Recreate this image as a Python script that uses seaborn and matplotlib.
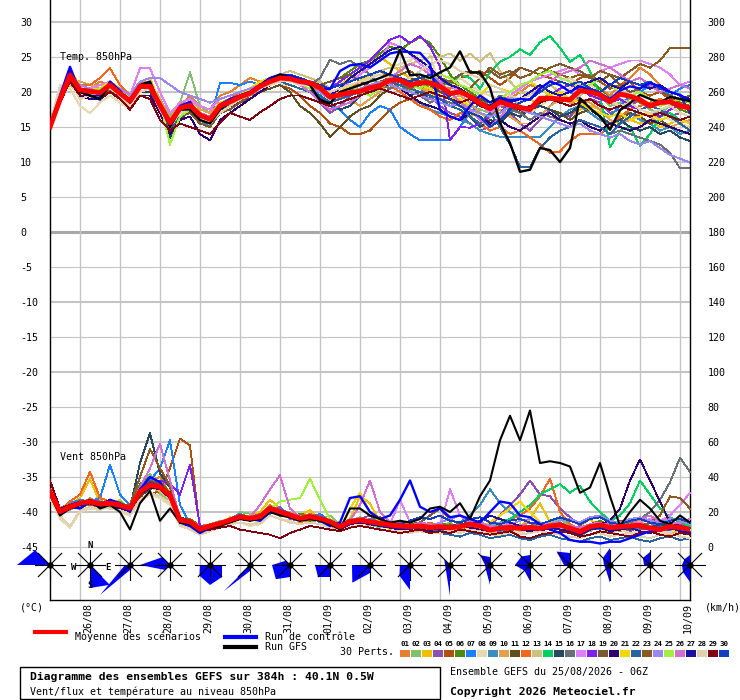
import numpy as np
import pandas as pd
import seaborn as sns
import matplotlib
matplotlib.use("Agg")
import matplotlib.pyplot as plt
import matplotlib.transforms as mtransforms
from matplotlib.lines import Line2D
from matplotlib.patches import Polygon, Rectangle

# ---------------- DATA ----------------
HOURS = list(range(0, 385, 6))          # echeances 6h, run du 25/08 06Z
DAY_HOURS = list(range(18, 384, 24))    # 00Z de chaque jour
DAY_LABELS = ["26/08", "27/08", "28/08", "29/08", "30/08", "31/08", "01/09", "02/09",
              "03/09", "04/09", "05/09", "06/09", "07/09", "08/09", "09/09", "10/09"]
ROSE_HOURS = list(range(0, 385, 24))

MEMBER_NAMES = ["%02d" % i for i in range(1, 31)]
MEMBER_COLORS = ["#e5802e", "#80c070", "#f0c000", "#8c50b0", "#b05010", "#508a10",
                 "#1a80ff", "#e8d8b0", "#3a8fc0", "#e0a050", "#604f20", "#f06820",
                 "#d0c080", "#00d060", "#284860", "#687078", "#e080f8", "#8020f0",
                 "#7a5a30", "#300070", "#f0d800", "#2a64a0", "#8a5a20", "#9a88f0",
                 "#a0f040", "#d070d0", "#2010a0", "#e0d0b0", "#800010", "#1040c0"]

# Temperature 850hPa (degC)
T_MEAN = [15.0, 18.9, 22.4, 20.3, 20.1, 19.9, 21.0, 19.8, 18.7, 20.8, 20.8, 18.1, 15.6,
          17.7, 18.1, 16.7, 16.1, 18.0, 18.6, 19.3, 19.8, 20.8, 21.5, 22.0, 21.9, 21.5,
          21.3, 20.6, 19.3, 19.6, 19.9, 20.1, 20.6, 20.9, 21.7, 21.7, 21.0, 21.3, 21.3,
          20.8, 19.8, 20.0, 19.4, 18.4, 17.6, 18.6, 18.1, 17.8, 17.5, 19.1, 19.1, 19.0,
          18.9, 20.2, 20.0, 19.6, 18.6, 19.7, 19.4, 18.9, 18.0, 18.5, 18.6, 18.0, 17.7]
T_CTRL = [15.2, 19.5, 23.6, 20.0, 19.5, 18.9, 21.5, 20.2, 18.5, 21.0, 21.2, 18.3, 15.5,
          18.0, 18.6, 16.5, 16.0, 18.2, 19.0, 19.5, 20.0, 21.0, 22.0, 22.5, 22.3, 21.8,
          21.2, 20.5, 20.4, 23.0, 23.8, 24.0, 23.5, 24.5, 25.5, 25.8, 25.7, 25.6, 24.0,
          17.4, 16.5, 16.0, 18.0, 19.5, 18.5, 19.2, 18.8, 19.0, 18.9, 20.5, 21.5, 21.0,
          20.0, 20.8, 20.3, 19.8, 19.0, 20.2, 20.8, 20.5, 21.3, 20.8, 20.0, 19.6, 18.7]
T_GFS = [15.2, 19.0, 22.0, 20.0, 19.5, 19.0, 21.0, 20.0, 18.5, 21.0, 21.5, 18.0, 15.0,
         17.5, 17.5, 16.0, 15.5, 17.5, 18.5, 19.5, 20.0, 21.0, 21.7, 22.5, 22.0, 21.5,
         21.0, 18.8, 18.4, 20.0, 20.5, 21.0, 21.5, 22.0, 22.6, 26.0, 22.4, 22.5, 22.0,
         22.8, 23.5, 25.8, 22.8, 22.8, 20.6, 15.6, 12.7, 8.6, 8.9, 12.0, 11.7, 10.0,
         12.0, 19.1, 17.7, 16.5, 14.6, 17.4, 18.4, 19.6, 19.0, 18.5, 19.3, 19.0, 18.7]

TEMP_MEMBERS = [
    [15.3, 19.5, 22, 21, 20.5, 21.5, 21, 20, 19, 21, 21.5, 18.5, 16,
     18, 19.5, 18, 17.5, 19.5, 20, 21, 22, 21.5, 22, 22.5, 21.5, 21,
     21.5, 21, 20, 19, 20.5, 21.5, 22, 23, 22, 21.5, 20, 19.5, 20.5,
     21, 20.5, 21, 20, 19, 18.5, 19.5, 19, 20, 21, 20.5, 19.5, 18.5,
     18, 19.5, 21, 20.5, 19.5, 21, 22, 23.5, 22.5, 21, 20, 19.5, 19],
    [15.8, 19, 22.5, 20, 20.5, 20.5, 21, 20.5, 18.5, 21, 21, 19, 16.5,
     18.5, 22.8, 18, 17, 18.5, 19, 19.5, 20.5, 21, 21.5, 22, 22, 21,
     20.5, 20, 18.5, 19, 20, 21, 22, 21, 20.5, 21, 20, 21.5, 22,
     20.5, 19, 18.5, 18, 17.5, 17, 18, 19.5, 18, 17, 18.5, 20, 19.5,
     20, 21, 20, 19.5, 18, 18.5, 19, 18.5, 17.5, 17, 18, 19, 18.5],
    [15, 19, 22, 20.5, 20, 19.5, 21.5, 20, 19, 21.5, 21, 17.5, 15,
     17.5, 17.5, 16, 15.5, 17.5, 18.5, 19.5, 20, 21, 22, 22.5, 22, 21.5,
     21, 21.5, 20.5, 21, 22, 23, 24.5, 25, 24, 23, 22, 21, 20,
     19, 18, 17.5, 16.5, 17, 16, 15.5, 17, 18.5, 19, 18, 17.5, 17,
     16.5, 17.5, 18, 17.5, 16.5, 17, 16, 15.5, 16, 15, 15.5, 16, 15.5],
    [14.8, 18.5, 22.5, 20.5, 19.5, 20, 20.5, 19.5, 18, 20.5, 20.5, 18, 15.5,
     17, 17.5, 16.5, 16, 17.5, 18, 19, 19.5, 20.5, 21.5, 22.5, 22, 21,
     20, 18.5, 17, 18, 19.5, 20.5, 19.5, 20.5, 21, 22, 21.5, 20.5, 19.5,
     18, 17, 16.5, 15.5, 14.5, 15, 16.5, 17, 15.5, 14.5, 16, 17.5, 17,
     16.5, 18, 19, 18.5, 17, 17.5, 18, 19, 18, 17.5, 16.5, 17, 16.5],
    [15, 18.5, 21.5, 20, 20, 19, 20.5, 19, 17.5, 20, 20, 17.5, 14.5,
     17, 17.5, 16.5, 16, 17.5, 18, 19, 19.5, 20, 20.5, 21, 20.5, 19.5,
     18, 17, 15.5, 15, 14, 14, 14.5, 16, 17.5, 18.5, 19, 19.5, 20,
     20.5, 21, 22, 22.5, 23, 22, 21, 22, 23.5, 23, 22.5, 22, 21.5,
     21, 22, 22.5, 21.5, 20.5, 21, 21.5, 20, 19.5, 20, 19, 18.5, 18],
    [15.5, 19, 22, 20.5, 20.5, 20, 21, 19.5, 18.5, 20.5, 21, 18, 15,
     17.5, 18, 16.5, 16, 18, 18.5, 19, 20, 21.5, 22, 22, 22.5, 22,
     21.5, 21, 21.5, 22, 23, 24, 24.5, 25.5, 26.5, 26, 27, 27.8, 27,
     25, 22.5, 21, 20, 19, 18, 19.5, 18.5, 17.5, 17, 18.5, 19, 18.5,
     19, 20.5, 21.5, 20.5, 19, 20, 19.5, 18.5, 18, 19, 18.5, 17.5, 17],
    [15.5, 19, 22.5, 19.5, 19, 19.5, 20.5, 19, 18, 20, 20.5, 17.5, 15.5,
     17.5, 18, 16.5, 16, 21.3, 21.3, 21, 21.5, 21, 21.5, 22, 21.5, 21,
     20.5, 19.5, 18, 17.5, 16, 15, 17, 18, 17.5, 15, 14, 13.1, 13.1,
     13.1, 13.1, 15, 17, 18.5, 17.5, 16, 17, 18, 17.5, 16.5, 18, 19.5,
     20, 19, 18.5, 17.5, 16.5, 18, 19.5, 20, 21, 20.5, 19.5, 20.5, 21],
    [15.5, 21, 20.5, 18, 17, 18.5, 19.5, 18.5, 17.5, 19.5, 20, 17, 14.5,
     16.5, 17, 15.5, 15, 17, 17.5, 18.5, 19, 20, 20.5, 21, 21, 20.5,
     20, 19.5, 19, 19.5, 20.5, 21, 22, 23, 23.5, 24, 24.5, 25.5, 25.5,
     20.5, 21, 22, 21, 20, 19.5, 19, 18, 17.5, 17, 18, 19, 19.5,
     20.5, 21.5, 21, 20, 19, 18, 17.5, 17, 16.5, 17, 16, 15.5, 15],
    [15, 19, 22.5, 20, 19.5, 20, 21, 20, 19, 21, 20.5, 18, 15,
     17, 17.5, 16, 15, 17, 18, 19, 19.5, 20, 21, 21.5, 21.5, 21,
     21, 20.5, 19.5, 20, 20.5, 19.5, 20, 20.5, 21, 20, 19, 18.5, 17.5,
     17, 16.5, 16, 15.5, 14.5, 14, 13.6, 13.6, 13.6, 13.6, 13.6, 15, 16.5,
     17.5, 18, 17, 16, 15.5, 16.5, 17, 16, 15.5, 14.5, 15, 14, 14.5],
    [15.3, 19.5, 22, 21.5, 21, 20.5, 21.5, 20.5, 19.5, 21.5, 21.5, 19, 16,
     18.5, 19, 17.5, 17, 18.5, 19, 19.5, 20, 21, 21.5, 21.5, 21, 20.5,
     20, 19, 18, 18.5, 19, 18, 19, 20, 21.5, 22, 21, 20.5, 20,
     19.5, 19, 19.5, 18.5, 17, 16.5, 17.5, 16.5, 15.5, 15.5, 16.5, 18, 19,
     18.5, 19, 18.5, 17.5, 16, 15.5, 16, 17, 16.5, 15.5, 15, 15.5, 16],
    [15, 18.5, 22, 20, 19.5, 19.5, 20.5, 19, 18, 20, 20, 17, 14.5,
     16.5, 17, 15.5, 15, 17, 17.5, 18.5, 19, 20, 20.5, 21, 20, 18,
     17, 15.5, 13.6, 15, 16.5, 17.5, 18, 19.5, 20.5, 21.5, 22, 21.5, 21,
     20, 19.5, 20.5, 19.5, 19, 18.5, 19, 18, 17, 17.5, 18, 17.5, 17,
     16, 17, 17.5, 16.5, 15.5, 16, 17, 16.5, 15.5, 16, 15, 14.5, 14],
    [15.5, 19.5, 22.5, 21, 21, 22, 23.4, 21, 19.5, 21.5, 21, 18.5, 16,
     18, 18.5, 17, 16.5, 18.5, 19, 20, 20.5, 21.5, 22, 22.5, 22, 21.5,
     21, 20, 19, 19.5, 19.5, 20.5, 21, 20.5, 21, 20, 19, 18, 17.5,
     16.5, 16, 17, 16.5, 15.5, 14.5, 15, 14, 14.5, 13.5, 12.5, 11.3, 11.5,
     13, 14, 14, 14, 15, 16.5, 17.5, 18, 18.5, 19, 18.5, 18, 19],
    [15.8, 20, 21, 19.5, 19, 20, 20.5, 19.5, 18.5, 20.5, 20.5, 18, 15.5,
     17.5, 18, 16.5, 16, 18, 18.5, 19, 20, 21, 21.5, 22.5, 23, 22.5,
     22, 21.5, 20.5, 21, 21.5, 22, 22.5, 23, 23.5, 23.5, 24, 24.5, 25,
     25, 25.5, 24.5, 25.5, 24.3, 25.6, 23, 21.5, 20, 19.5, 20.5, 21, 20,
     19, 19.5, 20.5, 20, 18.5, 19, 18.5, 17.5, 17, 16.5, 17, 16, 15.5],
    [16, 19.5, 22.5, 20.5, 20, 20, 21, 20, 18.5, 20.5, 20.5, 18.5, 15.5,
     18, 18.5, 17, 16.5, 18, 18.5, 19, 19.5, 20.5, 21, 21.5, 21, 20.5,
     20.5, 20, 19, 19.5, 20, 20.5, 20.5, 21, 22, 21.5, 21, 20.5, 21,
     21.5, 21, 22.5, 22, 20.5, 22.8, 24.3, 25, 26.1, 25.3, 27.1, 28, 26.3,
     24.3, 25.3, 23, 19.5, 12.1, 14.5, 15, 12.3, 14, 16.5, 17, 16, 16.5],
    [15, 18.5, 22, 20, 19.5, 19.5, 20.5, 19.5, 18, 20, 20, 17.5, 13.5,
     16, 17.5, 15.5, 15, 17, 18, 18.5, 19.5, 20.5, 21.5, 22, 21.5, 21,
     20.5, 19, 18.5, 17.5, 18, 19.5, 20.5, 21.5, 21, 20.5, 19.5, 20, 19,
     18.5, 18, 17.5, 16.5, 15, 16, 15.5, 17, 16.5, 17.5, 18, 17.5, 16.5,
     17, 18, 17.5, 16.5, 15.5, 16, 15, 14.5, 15, 14, 14.5, 13.5, 13],
    [15.2, 19, 22, 20, 20, 19.5, 21, 19.5, 18.5, 20.5, 21, 18, 15,
     17, 18, 16.5, 16, 18, 18.5, 19.5, 20, 21, 21.5, 22, 22, 21.5,
     21, 22, 24.6, 24, 24.5, 23.5, 22.5, 21, 20.5, 21, 20, 19.5, 18.5,
     19, 18.5, 18, 17.5, 17, 16.5, 18, 17.5, 17, 16, 17, 16.5, 16,
     15.5, 16, 15.5, 15, 14, 14.5, 14, 13.5, 13, 12.5, 11.3, 9.1, 9.1],
    [15.5, 20, 22, 21, 20.5, 21, 21.5, 20.5, 19.5, 23.4, 23.4, 20, 17,
     18.5, 19, 18, 17.5, 19, 19.5, 20, 20.5, 21.5, 22, 22.5, 22, 21.5,
     21, 20.5, 20, 20.5, 21.5, 22.5, 23.5, 24.5, 27, 26.5, 25.5, 24, 23,
     22, 21, 20, 19, 18.5, 17, 18, 19.5, 20.5, 21.5, 22, 22.5, 23,
     23.5, 22.5, 22, 23, 23.5, 24, 24.5, 24.5, 24, 23.5, 22.5, 21, 21.5],
    [15, 19, 22.5, 20.5, 20, 20, 21, 20, 19, 21, 21, 18, 15.5,
     18, 18.5, 17, 16.5, 18.5, 19, 19.5, 20, 21, 21.5, 22, 22.5, 22,
     21.5, 21, 20.5, 21.5, 22.5, 23.5, 24.5, 26, 27.5, 28, 27, 28, 26.5,
     23.6, 13.1, 15, 14.9, 15.5, 16.5, 17, 18.5, 18, 17.5, 18.5, 19.5, 20.5,
     21, 20.5, 19.5, 19, 18.5, 19, 18, 17.5, 17, 16.5, 17.5, 18, 17.5],
    [15.2, 18.5, 21.5, 20, 20, 19.5, 20.5, 19.5, 18, 20, 20.5, 17.5, 14,
     16.5, 17, 15.5, 15, 17, 17.5, 18.5, 19.5, 20.5, 21, 21.5, 21, 20.5,
     20.5, 21, 21.5, 22, 22.5, 21.5, 20.5, 21, 22, 22.5, 23, 22, 21.5,
     21, 21.5, 22.5, 23, 22.5, 23, 22, 22.5, 23.5, 23, 22.5, 23.5, 24,
     23.5, 23, 22, 21.5, 22.5, 21, 20, 20.5, 21.5, 20, 19.5, 19, 19.5],
    [15, 18.5, 22, 19.5, 19, 19, 20, 19, 17.5, 19.5, 19.5, 17, 14,
     16, 16.5, 14, 13.1, 16, 17, 18, 19, 20, 21, 21.5, 21, 20.5,
     20, 19, 18, 18.5, 19, 19.5, 20, 21, 21, 20.5, 19.5, 18.5, 18,
     17.5, 16.5, 16, 17, 16.5, 15.5, 16, 15, 14.5, 15.5, 16.5, 17, 16,
     15.5, 16, 15, 14.5, 15.5, 15, 14.5, 15, 16, 15.5, 15, 14.5, 14],
    [15.5, 19.5, 23, 21, 20.5, 20.5, 21.5, 20.5, 19, 21.5, 22, 18.5, 16,
     18, 18.5, 17, 16.5, 18.5, 19, 19.5, 20.5, 21.5, 22, 22, 21.5, 21,
     20.5, 20, 19.5, 20, 21, 21.5, 22.5, 23, 22.5, 22, 21.5, 21, 20.5,
     19.5, 19, 19, 18, 19.5, 21, 20.5, 20, 21, 21.5, 20.5, 19.5, 20,
     19, 18.5, 17.5, 17, 16.5, 17, 16, 16.5, 17, 16, 16.5, 16, 15.5],
    [15, 19, 22, 20, 19.5, 19.5, 21, 19.5, 18.5, 20.5, 20.5, 17.5, 14.5,
     17, 17.5, 16, 15.5, 17.5, 18, 19, 19.5, 20.5, 21, 21.5, 21, 20.5,
     20, 19.5, 18.5, 19, 19.5, 20, 20.5, 21, 21.5, 21, 20.5, 20, 19.5,
     19, 18, 17.5, 16.5, 15.5, 17, 15, 12.5, 9.3, 9.3, 12, 13.5, 14.5,
     15, 16, 15.5, 15, 14, 15.5, 16.5, 17.5, 18, 17.5, 16.5, 15.5, 14.5],
    [15.3, 19, 22, 20.5, 20, 20, 21, 19.5, 18.5, 20.5, 20.5, 18, 15,
     17.5, 18, 16.5, 16, 17.5, 18.5, 19.5, 20, 21, 21.5, 22, 22, 21.5,
     21, 20.5, 20, 20.5, 21, 21.5, 21, 21.5, 22, 21.5, 20.5, 21, 21.5,
     22, 21.5, 21, 20.5, 22, 23.5, 22.5, 23, 22, 22.5, 23.5, 23, 22.5,
     22, 22.5, 22, 23, 22.5, 22, 23, 24, 23.5, 24.5, 26.3, 26.3, 26.3],
    [15.5, 19.5, 22.5, 21, 20.5, 20, 21, 20.5, 19.5, 21.5, 22, 22, 21,
     20, 19.5, 19, 18.5, 19, 19.5, 20, 20.5, 21, 21.5, 22, 21.5, 21,
     20.5, 20, 19, 19.5, 20, 20.5, 21, 21.5, 21, 20.5, 20, 19.5, 19,
     18.5, 18, 18.5, 17.5, 17, 16.5, 17, 18, 17.5, 17, 16.5, 16, 15.5,
     15, 15.5, 14.5, 14, 13.5, 14, 13, 12.5, 13, 12, 11, 10.5, 9.9],
    [16, 19.5, 22, 20, 20, 20.5, 21, 20, 19, 21, 21, 18.5, 12.5,
     16.5, 17.5, 16, 15.5, 17.5, 18.5, 19.5, 20, 21, 21.5, 22, 21.5, 21,
     20.5, 21, 20, 20.5, 21, 20, 19.5, 20.5, 21.5, 22, 21, 20.5, 21.5,
     22.5, 22, 21, 20.5, 19.5, 18.5, 19, 20, 21, 21.5, 22.5, 23, 22,
     21.5, 20.5, 21, 22, 21, 20, 19.5, 20, 19, 18, 18.5, 19, 18.5],
    [15.3, 19, 22, 20.5, 20, 19.5, 21, 20, 18.5, 20.5, 21, 18.5, 15.5,
     17.5, 18, 17, 16.5, 18, 18.5, 19, 20, 20.5, 21, 21.5, 21.5, 21,
     20, 18.5, 17.5, 18, 18.5, 19.5, 20, 21, 22, 23, 24, 23.5, 22.5,
     21.5, 20, 18.5, 17.5, 16, 15, 16.5, 17.5, 18.5, 19, 20.5, 21.5, 22.5,
     23, 23.5, 24.5, 24, 23.5, 22.5, 21.5, 22, 21, 20, 20.5, 21, 20.5],
    [15, 19, 23, 20, 19.5, 19.5, 21, 20, 18.5, 21, 21, 18, 15,
     17.5, 18, 16.5, 16, 18, 18.5, 19.5, 20, 21, 21.5, 22.5, 22, 21.5,
     21, 20.5, 19.5, 20.5, 22, 23, 24, 25, 26, 26.5, 25.5, 24.5, 23.5,
     22, 21, 20.5, 19.5, 18.5, 18, 19, 18.5, 19, 20, 21, 20, 19.5,
     20, 21, 21.5, 22, 21, 20.5, 21.5, 21, 20.5, 21, 20, 19.5, 19],
    [15.5, 20.5, 21.5, 19, 19.5, 20, 20.5, 19.5, 18, 20, 20.5, 17.5, 15,
     17, 17.5, 16, 15.5, 17, 18, 19, 19.5, 20.5, 21, 21.5, 21.5, 21,
     21, 20.5, 20, 20.5, 21, 21.5, 22, 22.5, 22, 21.5, 22, 23, 24,
     24.5, 24, 23, 22.5, 22, 21, 20.5, 19.5, 19, 19.5, 20, 21, 21.5,
     22, 21, 20, 19.5, 18.5, 18, 18.5, 17.5, 17, 17.5, 18, 17, 16.5],
    [15, 18.5, 21.5, 19.5, 19.5, 19, 20, 19, 17.5, 19.5, 19, 16, 14.5,
     15.5, 15, 14.5, 14, 15.6, 17, 16.5, 16, 17.1, 18, 19, 19.5, 19.5,
     19, 18.5, 18, 18.5, 19, 19.5, 20, 20.5, 20, 19.5, 19, 19.5, 20,
     19.5, 19, 18.5, 19, 18, 17.5, 18.5, 18, 17.5, 18, 18.5, 19, 18.5,
     18, 18.5, 19, 18, 17.5, 18, 17.5, 17, 16.5, 17, 16.5, 16, 16.5],
    [15.2, 19, 22.5, 20.5, 20, 20, 21, 20, 19, 21, 21, 18, 15.5,
     17.5, 18, 16.5, 16, 18, 18.5, 19.5, 20, 21, 22, 22.5, 22.5, 22,
     21.5, 21, 20.5, 21, 21.5, 22, 22.5, 23, 22.5, 22, 21.5, 22, 22.5,
     21, 19, 18, 17, 16.5, 15, 16, 17.5, 18.5, 19, 20, 21, 21.5,
     21, 21.5, 20.5, 20, 21, 22, 21.5, 21, 21.5, 20.5, 20, 19.5, 17],
]

# Vent 850hPa (km/h)
W_MEAN = [31.6, 20.2, 22.9, 25.1, 25.9, 24.6, 25.0, 24.0, 22.1, 31.6, 35.4, 34.5, 29.7,
          15.4, 14.5, 10.1, 12.0, 13.5, 15.4, 17.3, 16.4, 17.3, 22.1, 20.2, 18.3, 16.4,
          17.3, 16.4, 14.5, 11.6, 14.5, 15.4, 14.5, 13.5, 12.6, 12.0, 11.6, 12.0, 11.2,
          11.6, 11.0, 11.6, 13.1, 12.0, 9.7, 10.7, 11.2, 10.7, 11.2, 10.7, 12.0, 12.6,
          10.7, 8.8, 11.6, 12.6, 11.2, 11.6, 12.0, 12.4, 10.7, 10.1, 11.6, 11.2, 10.1]
W_CTRL = [30, 19, 23, 22, 26, 23, 27, 25, 20, 33, 40, 37, 28,
          14, 12, 8, 11, 13, 15, 18, 16, 15, 20, 19, 17, 16,
          18, 15, 12, 14, 28, 29, 20, 16, 18, 27, 38, 23, 20,
          22, 17, 18, 16, 14, 20, 26, 25, 18, 17, 13, 10, 8,
          4, 3, 3, 2, 3, 3, 5, 7, 9, 11, 10, 12, 9]
W_GFS = [30, 18, 22, 24, 27, 22, 24, 20, 10, 25, 32, 15, 22,
         14, 13, 9, 11, 12, 14, 16, 15, 16, 20, 18, 17, 15,
         16, 15, 13, 10, 22, 22, 18, 16, 14, 15, 14, 16, 22,
         23, 20, 25, 16, 29, 38, 61, 75, 61, 78, 48, 49, 48,
         46, 31, 34, 48, 29, 12, 20, 27, 22, 15, 13, 18, 14]

WIND_MEMBERS = [
    [31, 18, 25, 23, 28, 24, 27, 22, 19, 30, 38, 40, 30,
     14, 12, 9, 11, 14, 16, 18, 15, 17, 24, 21, 18, 14,
     16, 18, 12, 10, 13, 15, 12, 16, 12, 10, 8, 11, 14,
     10, 9, 13, 12, 10, 8, 12, 14, 10, 9, 13, 15, 11,
     8, 6, 10, 14, 13, 9, 11, 13, 12, 8, 10, 12, 9],
    [32, 22, 21, 26, 24, 27, 23, 25, 20, 35, 42, 30, 27,
     16, 13, 11, 13, 15, 14, 20, 19, 16, 21, 18, 20, 17,
     14, 16, 18, 13, 15, 17, 13, 11, 14, 12, 10, 13, 9,
     12, 14, 10, 12, 15, 11, 8, 10, 13, 12, 9, 14, 16,
     12, 10, 9, 13, 11, 14, 12, 10, 9, 12, 14, 11, 8],
    [30, 21, 24, 28, 39, 25, 24, 27, 21, 34, 38, 36, 32,
     17, 15, 8, 10, 12, 17, 16, 18, 20, 27, 22, 19, 18,
     21, 15, 13, 9, 16, 29, 25, 14, 10, 13, 11, 9, 12,
     13, 10, 12, 15, 11, 7, 9, 13, 12, 16, 25, 14, 10,
     9, 12, 16, 11, 8, 10, 13, 15, 11, 9, 7, 10, 12],
    [33, 19, 22, 24, 27, 26, 25, 21, 24, 30, 33, 38, 28,
     13, 15, 11, 12, 11, 14, 16, 17, 19, 20, 23, 16, 15,
     18, 14, 15, 12, 13, 16, 18, 13, 11, 14, 13, 10, 9,
     12, 13, 11, 16, 14, 12, 18, 24, 30, 38, 30, 29, 22,
     17, 12, 10, 13, 15, 11, 9, 12, 14, 10, 12, 13, 11],
    [29, 20, 23, 25, 24, 22, 26, 23, 21, 28, 30, 32, 45,
     62, 58, 10, 13, 12, 15, 18, 16, 15, 20, 19, 17, 16,
     15, 17, 14, 12, 16, 14, 15, 17, 13, 11, 12, 14, 10,
     11, 13, 12, 10, 14, 11, 10, 9, 12, 14, 11, 10, 13,
     12, 9, 11, 10, 12, 15, 14, 10, 11, 13, 12, 9, 10],
    [31, 19, 23, 22, 25, 26, 24, 25, 23, 36, 40, 37, 31,
     15, 16, 12, 10, 14, 16, 17, 15, 18, 23, 20, 17, 19,
     18, 15, 13, 12, 14, 12, 16, 15, 14, 13, 10, 12, 11,
     14, 12, 10, 13, 11, 13, 14, 12, 9, 10, 12, 11, 14,
     10, 8, 13, 15, 12, 11, 14, 13, 10, 11, 9, 12, 10],
    [30, 22, 25, 27, 26, 28, 47, 30, 24, 33, 38, 45, 61,
     24, 13, 9, 11, 12, 14, 17, 16, 15, 19, 22, 19, 16,
     17, 19, 14, 10, 12, 15, 13, 14, 11, 12, 14, 10, 12,
     9, 12, 13, 11, 14, 10, 9, 12, 11, 10, 13, 12, 10,
     11, 9, 12, 10, 13, 12, 10, 11, 14, 12, 9, 11, 12],
    [28, 16, 11, 20, 22, 21, 23, 20, 18, 26, 30, 28, 24,
     12, 10, 7, 9, 11, 13, 14, 12, 13, 18, 16, 15, 13,
     14, 13, 11, 9, 12, 13, 11, 10, 9, 10, 8, 10, 9,
     8, 10, 9, 11, 10, 8, 7, 9, 8, 10, 9, 11, 10,
     9, 7, 10, 11, 9, 10, 8, 9, 10, 8, 9, 10, 8],
    [32, 20, 22, 25, 27, 23, 26, 24, 22, 31, 36, 34, 30,
     16, 14, 11, 12, 14, 16, 19, 17, 18, 22, 21, 18, 16,
     16, 15, 13, 11, 13, 14, 16, 15, 13, 12, 14, 12, 10,
     12, 11, 14, 18, 24, 33, 25, 20, 16, 14, 12, 10, 13,
     11, 9, 12, 14, 12, 10, 13, 12, 11, 10, 12, 11, 9],
    [30, 21, 24, 26, 25, 24, 23, 26, 22, 30, 34, 33, 28,
     15, 13, 10, 12, 14, 15, 16, 18, 17, 21, 20, 19, 17,
     18, 17, 15, 12, 14, 16, 15, 13, 12, 11, 13, 12, 11,
     13, 10, 12, 14, 11, 10, 12, 11, 13, 12, 10, 14, 13,
     12, 10, 13, 12, 11, 13, 12, 14, 11, 10, 12, 11, 10],
    [31, 20, 23, 24, 26, 25, 24, 23, 20, 29, 33, 35, 31,
     14, 15, 12, 11, 13, 15, 17, 16, 18, 23, 19, 17, 15,
     17, 16, 15, 11, 15, 14, 13, 12, 13, 12, 11, 13, 12,
     11, 12, 10, 13, 12, 9, 11, 12, 10, 12, 11, 13, 12,
     10, 9, 11, 13, 12, 11, 13, 12, 10, 11, 12, 10, 11],
    [32, 21, 26, 30, 43, 28, 26, 25, 23, 30, 35, 33, 29,
     16, 15, 12, 13, 14, 16, 18, 17, 18, 24, 21, 19, 17,
     19, 17, 15, 13, 14, 16, 15, 14, 13, 15, 13, 12, 14,
     12, 11, 13, 12, 10, 11, 14, 16, 18, 22, 29, 39, 20,
     13, 10, 12, 14, 11, 12, 13, 11, 12, 10, 13, 12, 11],
    [29, 19, 22, 24, 25, 23, 24, 22, 21, 30, 34, 32, 27,
     15, 13, 10, 11, 13, 14, 16, 15, 16, 21, 19, 17, 15,
     16, 15, 13, 11, 13, 14, 13, 12, 11, 12, 10, 11, 12,
     10, 11, 12, 14, 11, 8, 10, 11, 9, 11, 10, 12, 11,
     10, 8, 11, 12, 10, 11, 12, 13, 10, 9, 11, 10, 9],
    [31, 22, 24, 26, 27, 25, 24, 26, 22, 32, 36, 35, 29,
     15, 14, 11, 12, 13, 15, 17, 16, 18, 22, 20, 18, 16,
     16, 15, 14, 12, 15, 16, 14, 13, 12, 11, 13, 12, 11,
     12, 10, 13, 12, 11, 10, 14, 16, 20, 24, 30, 33, 36,
     31, 35, 26, 20, 15, 18, 25, 38, 30, 22, 17, 14, 12],
    [33, 20, 23, 25, 26, 24, 27, 25, 22, 48, 65, 42, 34,
     17, 15, 11, 12, 14, 16, 17, 16, 18, 22, 20, 18, 16,
     17, 16, 14, 12, 14, 15, 14, 13, 12, 13, 11, 12, 10,
     11, 12, 13, 14, 12, 10, 11, 10, 12, 11, 13, 12, 11,
     12, 10, 11, 13, 12, 11, 10, 12, 11, 13, 12, 10, 11],
    [30, 20, 22, 25, 26, 24, 25, 23, 22, 31, 37, 34, 29,
     15, 14, 10, 12, 13, 15, 17, 16, 17, 22, 20, 18, 16,
     17, 16, 14, 11, 14, 15, 14, 13, 12, 12, 11, 12, 11,
     11, 12, 11, 13, 12, 10, 11, 12, 11, 10, 12, 13, 14,
     11, 10, 12, 13, 12, 11, 14, 16, 20, 27, 37, 51, 43],
    [31, 21, 24, 25, 27, 25, 26, 24, 23, 32, 36, 35, 30,
     16, 15, 11, 12, 14, 16, 18, 17, 18, 23, 21, 19, 17,
     18, 17, 15, 12, 15, 16, 15, 14, 13, 27, 14, 12, 13,
     12, 33, 18, 14, 13, 11, 12, 14, 12, 11, 13, 12, 11,
     12, 10, 13, 14, 12, 13, 12, 14, 16, 15, 18, 24, 31],
    [30, 20, 23, 24, 25, 24, 25, 23, 21, 30, 36, 38, 36,
     30, 47, 12, 11, 13, 15, 16, 15, 17, 21, 19, 17, 15,
     16, 15, 13, 11, 13, 14, 13, 12, 11, 12, 11, 10, 12,
     11, 10, 12, 13, 12, 9, 10, 11, 10, 12, 11, 10, 12,
     10, 8, 11, 12, 10, 11, 12, 11, 10, 9, 11, 10, 9],
    [31, 20, 23, 26, 26, 25, 25, 24, 22, 33, 38, 36, 30,
     15, 14, 10, 12, 14, 16, 18, 17, 18, 22, 20, 18, 16,
     17, 16, 14, 12, 15, 16, 15, 14, 13, 12, 13, 14, 18,
     22, 16, 13, 12, 11, 10, 12, 11, 10, 11, 12, 11, 12,
     11, 10, 12, 13, 11, 12, 13, 12, 11, 10, 11, 12, 10],
    [30, 19, 22, 24, 25, 23, 24, 22, 20, 30, 34, 33, 28,
     14, 13, 9, 11, 12, 14, 16, 15, 16, 21, 19, 17, 15,
     16, 15, 13, 10, 13, 14, 13, 12, 11, 10, 11, 10, 9,
     10, 11, 12, 11, 10, 9, 10, 11, 10, 9, 10, 11, 12,
     11, 10, 12, 13, 15, 22, 38, 50, 38, 26, 14, 12, 10],
    [31, 21, 24, 26, 26, 25, 25, 24, 22, 31, 36, 35, 30,
     15, 14, 10, 12, 14, 15, 17, 16, 17, 22, 20, 18, 16,
     17, 16, 14, 11, 22, 31, 20, 14, 13, 12, 11, 13, 12,
     11, 12, 10, 13, 12, 14, 18, 22, 26, 20, 14, 12, 11,
     12, 10, 11, 13, 12, 11, 12, 13, 11, 10, 12, 11, 10],
    [31, 20, 23, 25, 26, 24, 26, 24, 22, 32, 36, 34, 30,
     15, 14, 11, 12, 13, 15, 17, 16, 18, 22, 20, 18, 16,
     17, 16, 14, 12, 14, 15, 14, 13, 12, 12, 11, 12, 11,
     8, 7, 6, 8, 7, 5, 6, 7, 5, 4, 6, 7, 5,
     4, 3, 5, 6, 4, 5, 6, 4, 3, 5, 6, 4, 5],
    [30, 20, 23, 25, 26, 24, 25, 23, 24, 40, 56, 45, 35,
     16, 14, 10, 12, 13, 15, 17, 16, 17, 22, 20, 18, 16,
     17, 16, 14, 12, 14, 15, 14, 13, 12, 12, 11, 12, 11,
     11, 12, 11, 13, 12, 10, 11, 12, 11, 10, 12, 13, 12,
     11, 10, 12, 13, 12, 11, 13, 12, 14, 18, 29, 28, 22],
    [30, 21, 23, 25, 27, 25, 25, 24, 22, 32, 37, 35, 30,
     16, 14, 11, 12, 14, 16, 17, 16, 18, 22, 20, 18, 16,
     17, 16, 14, 12, 15, 16, 15, 14, 13, 12, 11, 13, 12,
     14, 16, 18, 15, 13, 12, 14, 13, 15, 16, 14, 13, 15,
     16, 14, 17, 18, 15, 14, 16, 17, 15, 14, 16, 15, 13],
    [30, 20, 24, 25, 26, 24, 25, 24, 22, 31, 35, 34, 29,
     15, 14, 10, 12, 14, 15, 17, 16, 17, 22, 26, 27, 28,
     39, 27, 16, 12, 14, 15, 14, 13, 12, 11, 12, 13, 11,
     12, 11, 12, 13, 11, 10, 11, 12, 10, 11, 12, 11, 12,
     10, 9, 11, 12, 11, 12, 13, 12, 10, 11, 12, 11, 10],
    [31, 21, 23, 25, 26, 25, 26, 24, 23, 34, 45, 59, 38,
     16, 14, 11, 12, 14, 16, 18, 17, 24, 33, 41, 22, 17,
     18, 16, 14, 12, 15, 24, 38, 20, 14, 13, 12, 14, 13,
     12, 11, 13, 12, 14, 12, 11, 13, 12, 14, 13, 12, 11,
     12, 11, 13, 12, 14, 13, 12, 16, 18, 15, 13, 14, 16],
    [30, 20, 22, 24, 26, 24, 25, 23, 21, 31, 35, 33, 29,
     15, 13, 10, 11, 13, 15, 16, 15, 17, 21, 19, 17, 15,
     16, 15, 13, 11, 13, 14, 13, 12, 11, 11, 10, 12, 11,
     10, 11, 12, 13, 15, 18, 16, 14, 12, 10, 9, 11, 10,
     9, 7, 10, 11, 9, 10, 11, 9, 8, 10, 11, 9, 8],
    [29, 18, 12, 21, 23, 22, 22, 21, 19, 27, 31, 29, 25,
     13, 11, 7, 9, 11, 13, 14, 13, 14, 18, 16, 14, 13,
     14, 13, 11, 9, 11, 12, 11, 10, 9, 9, 8, 9, 8,
     8, 9, 8, 10, 9, 7, 7, 8, 7, 8, 9, 8, 7,
     6, 5, 7, 8, 6, 7, 8, 6, 5, 7, 8, 6, 5],
    [38, 22, 24, 26, 25, 24, 27, 25, 21, 30, 35, 33, 28,
     14, 12, 9, 10, 11, 12, 10, 9, 8, 7, 5, 8, 10,
     12, 11, 10, 9, 11, 12, 11, 10, 9, 8, 9, 10, 8,
     9, 8, 10, 9, 8, 7, 8, 9, 6, 5, 7, 8, 9,
     8, 6, 7, 9, 8, 7, 6, 8, 9, 7, 6, 8, 7],
    [31, 20, 23, 25, 27, 25, 26, 25, 22, 33, 37, 35, 30,
     16, 14, 11, 12, 14, 16, 18, 17, 18, 23, 21, 19, 17,
     18, 17, 15, 13, 15, 16, 15, 14, 14, 13, 15, 17, 16,
     18, 15, 14, 16, 17, 14, 13, 15, 16, 14, 13, 15, 17,
     15, 13, 16, 17, 14, 13, 15, 16, 14, 13, 15, 16, 14],
]

# roses des vents : longueur par secteur N, NE, E, SE, S, SW, W, NW
ROSE_FREQ = [
    [0, 0, 0, 0, 0, 0, 33, 21],
    [0, 0, 0, 28, 23, 0, 0, 0],
    [0, 0, 0, 0, 5, 42, 5, 0],
    [0, 0, 0, 0, 0, 7, 30, 11],
    [0, 0, 12, 17, 20, 15, 10, 0],
    [0, 0, 4, 0, 6, 37, 0, 0],
    [0, 0, 0, 0, 12, 20, 18, 6],
    [0, 0, 5, 0, 12, 17, 15, 0],
    [0, 0, 0, 0, 8, 25, 18, 0],
    [5, 0, 0, 0, 25, 15, 10, 0],
    [0, 0, 0, 0, 31, 6, 5, 8],
    [8, 0, 0, 0, 20, 6, 5, 14],
    [10, 0, 0, 0, 16, 8, 15, 12],
    [12, 0, 0, 0, 12, 0, 6, 19],
    [17, 0, 0, 0, 18, 6, 6, 10],
    [13, 0, 0, 0, 27, 0, 6, 10],
    [10, 0, 6, 0, 17, 10, 8, 8],
]
# ---------------------------------------

for serie in TEMP_MEMBERS + WIND_MEMBERS + [T_MEAN, T_CTRL, T_GFS, W_MEAN, W_CTRL, W_GFS]:
    assert len(serie) == len(HOURS), len(serie)

W, H = 740, 700
plt.rcParams["font.family"] = ["DejaVu Sans Mono"]
plt.rcParams["font.size"] = 7.2
plt.rcParams["axes.unicode_minus"] = False


def fx(x):
    return x / W


def fy(y):
    return 1 - y / H


fig = plt.figure(figsize=(W / 100, H / 100), dpi=100)
fig.patch.set_facecolor("white")
ax = fig.add_axes([fx(50), fy(600), 640 / W, 600 / H])
ax2 = ax.twinx()

palette = dict(zip(MEMBER_NAMES, MEMBER_COLORS))
n = len(HOURS)
df_t = pd.DataFrame({"hour": HOURS * 30,
                     "temp": [v for s in TEMP_MEMBERS for v in s],
                     "member": np.repeat(MEMBER_NAMES, n)})
df_w = pd.DataFrame({"hour": HOURS * 30,
                     "wind": [v for s in WIND_MEMBERS for v in s],
                     "member": np.repeat(MEMBER_NAMES, n)})

member_style = dict(estimator=None, legend=False, linewidth=0.6, marker="s",
                    markersize=2.0, markeredgewidth=0, antialiased=False, zorder=2)

# temperature
sns.lineplot(data=df_t, x="hour", y="temp", hue="member", palette=palette,
             ax=ax, **member_style)
sns.lineplot(x=HOURS, y=T_CTRL, color="#0000ff", linewidth=1.7, ax=ax, zorder=3)
sns.lineplot(x=HOURS, y=T_GFS, color="black", linewidth=1.7, ax=ax, zorder=4)
sns.lineplot(x=HOURS, y=T_MEAN, color="#ff0000", linewidth=3.6, ax=ax, zorder=5)

# vent
sns.lineplot(data=df_w, x="hour", y="wind", hue="member", palette=palette,
             ax=ax2, **member_style)
sns.lineplot(x=HOURS, y=W_CTRL, color="#0000ff", linewidth=1.7, ax=ax2, zorder=3)
sns.lineplot(x=HOURS, y=W_GFS, color="black", linewidth=1.5, ax=ax2, zorder=4)
sns.lineplot(x=HOURS, y=W_MEAN, color="#ff0000", linewidth=3.6, ax=ax2, zorder=5)

ylo, yhi = 30 - 578 / 7, 30 + 22 / 7
ax.set_xlim(0, 384)
ax.set_ylim(ylo, yhi)
ax2.set_xlim(0, 384)
ax2.set_ylim(4 * (ylo + 45), 4 * (yhi + 45))
for a in (ax, ax2):
    a.set_xlabel("")
    a.set_ylabel("")

# grille
for v in range(-45, 31, 5):
    if v == 0:
        ax.axhline(v, color="#a8a8a8", lw=2.2, zorder=0.5)
    elif v % 10 == 0:
        ax.axhline(v, color="#c4c4c4", lw=1.5, zorder=0.5)
    else:
        ax.axhline(v, color="#c4c4c4", lw=0.8, zorder=0.5)
for h in DAY_HOURS:
    ax.axvline(h, color="#c4c4c4", lw=1.0, zorder=0.5)

# axes / graduations
ax.set_yticks(range(-45, 31, 5))
ax.tick_params(axis="y", length=0, pad=21.6)
for lab in ax.get_yticklabels():
    lab.set_horizontalalignment("left")
ax2.set_yticks(range(0, 301, 20))
ax2.tick_params(axis="y", length=0, pad=12.5)
ax.set_xticks(DAY_HOURS)
ax.set_xticklabels(DAY_LABELS, rotation=90)
ax.tick_params(axis="x", length=0, pad=2.2)
shift = mtransforms.ScaledTranslation(8 / 100, 0, fig.dpi_scale_trans)
for lab in ax.get_xticklabels():
    lab.set_transform(lab.get_transform() + shift)

ax.spines["top"].set_visible(False)
for side in ("left", "right", "bottom"):
    ax.spines[side].set_color("black")
    ax.spines[side].set_linewidth(1.0)
for side in ax2.spines:
    ax2.spines[side].set_visible(False)

# roses des vents
ROSE_Y = 30 - (565 - 22) / 7
DIRS = [(0, 1), (0.7071, 0.7071), (1, 0), (0.7071, -0.7071),
        (0, -1), (-0.7071, -0.7071), (-1, 0), (-0.7071, 0.7071)]
for h, radii in zip(ROSE_HOURS, ROSE_FREQ):
    tr = fig.dpi_scale_trans + mtransforms.ScaledTranslation(h, ROSE_Y, ax.transData)
    verts = [(dx * r / 100, dy * r / 100) for (dx, dy), r in zip(DIRS, radii)]
    ax.add_patch(Polygon(verts, closed=True, fc="#0000ff", ec="none",
                         transform=tr, clip_on=False, zorder=3))
    for dx, dy in DIRS[:4]:
        L = 15 if dx == 0 or dy == 0 else 16.5
        ax.add_line(Line2D([-dx * L / 100, dx * L / 100], [-dy * L / 100, dy * L / 100],
                           color="black", lw=0.8, transform=tr, clip_on=False, zorder=4))
ax.plot(ROSE_HOURS, [ROSE_Y] * len(ROSE_HOURS), "o", color="black", ms=3.5,
        clip_on=False, zorder=5)
tr1 = fig.dpi_scale_trans + mtransforms.ScaledTranslation(ROSE_HOURS[1], ROSE_Y, ax.transData)
for lbl, ox, oy in [("N", 0, 20), ("S", 0, -21), ("W", -16, -2), ("E", 18, -2)]:
    ax.text(ox / 100, oy / 100, lbl, transform=tr1, ha="center", va="center",
            fontsize=6.5, fontweight="bold", zorder=6)

# textes
fig.text(fx(60), fy(57), "Temp. 850hPa", va="center", ha="left")
fig.text(fx(60), fy(457), "Vent 850hPa", va="center", ha="left")
fig.text(fx(20), fy(607), "(°C)", va="center", ha="left")
fig.text(fx(705), fy(607), "(km/h)", va="center", ha="left")

# legende
fig.add_artist(Line2D([fx(35), fx(66)], [fy(632), fy(632)], color="#ff0000", lw=3.0,
                      transform=fig.transFigure))
fig.text(fx(75), fy(637), "Moyenne des scénarios", va="center", ha="left")
fig.add_artist(Line2D([fx(225), fx(256)], [fy(637), fy(637)], color="#0000ff", lw=3.0,
                      transform=fig.transFigure))
fig.text(fx(265), fy(637), "Run de contrôle", va="center", ha="left")
fig.add_artist(Line2D([fx(225), fx(256)], [fy(647), fy(647)], color="black", lw=3.0,
                      transform=fig.transFigure))
fig.text(fx(265), fy(647), "Run GFS", va="center", ha="left")
fig.text(fx(340), fy(652), "30 Perts.", va="center", ha="left")
for k, (name, col) in enumerate(zip(MEMBER_NAMES, MEMBER_COLORS)):
    fig.add_artist(Rectangle((fx(400 + 11 * k), fy(657)), 10 / W, 7 / H, fc=col, ec="none",
                             transform=fig.transFigure))
    fig.text(fx(405 + 11 * k), fy(644), name, ha="center", va="center",
             fontsize=5.3, fontweight="bold")

# cartouche
fig.add_artist(Rectangle((fx(20), fy(699)), 420 / W, 32 / H, fill=False, ec="black", lw=1.0,
                         transform=fig.transFigure))
fig.text(fx(30), fy(677), "Diagramme des ensembles GEFS sur 384h : 40.1N 0.5W",
         va="center", ha="left", fontsize=8.2, fontweight="bold")
fig.text(fx(30), fy(692), "Vent/flux et température au niveau 850hPa", va="center", ha="left")
fig.text(fx(450), fy(672), "Ensemble GEFS du 25/08/2026 - 06Z", va="center", ha="left")
fig.text(fx(450), fy(692), "Copyright 2026 Meteociel.fr", va="center", ha="left",
         fontsize=8.2, fontweight="bold")

fig.savefig("out.png", dpi=100, facecolor="white")
